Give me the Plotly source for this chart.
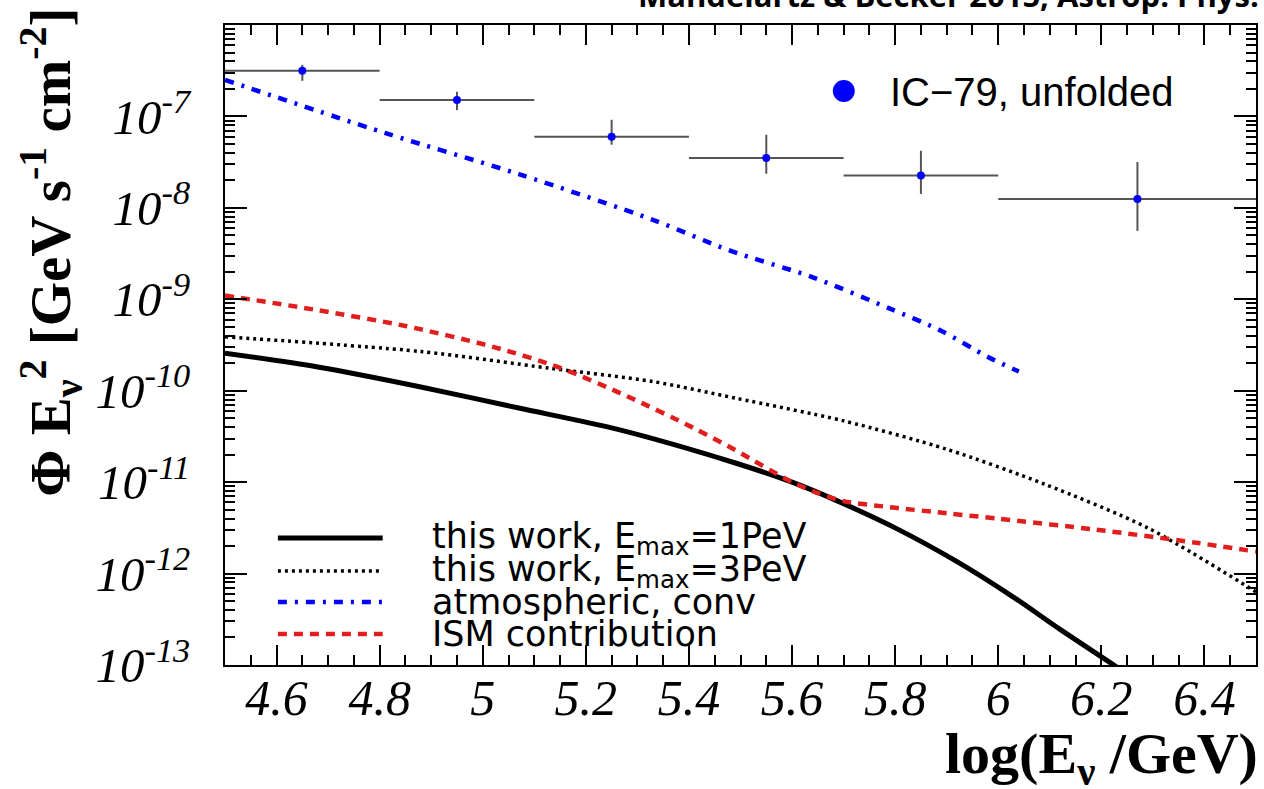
import plotly.graph_objects as go

# ---------------- data ----------------
# IC-79 unfolded spectrum: bin centres, bin edges, flux and error-bar ends
ic_x = [4.65, 4.95, 5.25, 5.55, 5.85, 6.27]
ic_x_lo = [4.5, 4.8, 5.1, 5.4, 5.7, 6.0]
ic_x_hi = [4.8, 5.1, 5.4, 5.7, 6.0, 6.5]
ic_flux = [3.16e-7, 1.51e-7, 5.98e-8, 3.52e-8, 2.26e-8, 1.25e-8]
ic_flux_hi = [3.67e-7, 1.86e-7, 9.2e-8, 6.30e-8, 4.21e-8, 3.18e-8]
ic_flux_lo = [2.45e-7, 1.17e-7, 4.9e-8, 2.36e-8, 1.42e-8, 5.6e-9]

# this work, Emax = 1 PeV
e1_x = [4.50, 4.68, 4.88, 5.07, 5.26, 5.49, 5.60, 5.67, 5.80, 5.92, 6.03,
        6.12, 6.23]
e1_flux = [2.57e-10, 1.82e-10, 1.10e-10, 6.46e-11, 3.80e-11, 1.62e-11,
           1.0e-11, 6.9e-12, 3.16e-12, 1.35e-12, 5.5e-13, 2.45e-13, 9.5e-14]

# this work, Emax = 3 PeV
e3_x = [4.50, 4.88, 5.13, 5.33, 5.49, 5.70, 5.90, 6.09, 6.29, 6.50]
e3_flux = [3.89e-10, 2.68e-10, 1.76e-10, 1.26e-10, 8.3e-11, 4.68e-11,
           2.29e-11, 9.5e-12, 3.16e-12, 6.3e-13]

# atmospheric, conventional
atm_x = [4.50, 4.81, 5.07, 5.33, 5.48, 5.64, 5.79, 5.89, 5.98, 6.04]
atm_flux = [2.51e-7, 6.6e-8, 2.34e-8, 7.4e-9, 3.4e-9, 1.74e-9, 7.9e-10,
            4.5e-10, 2.34e-10, 1.62e-10]

# ISM contribution
ism_x = [4.50, 4.68, 4.85, 5.02, 5.15, 5.28, 5.41, 5.49, 5.60, 5.65, 5.70,
         5.80, 5.90, 6.00, 6.19, 6.38, 6.50]
ism_flux = [1.10e-9, 7.6e-10, 5.1e-10, 3.02e-10, 1.78e-10, 8.7e-11, 3.89e-11,
            2.24e-11, 1.0e-11, 7.6e-12, 6.2e-12, 5.25e-12, 4.57e-12,
            3.98e-12, 3.02e-12, 2.19e-12, 1.74e-12]

# axis ticks
y_tick_vals = [1e-13, 1e-12, 1e-11, 1e-10, 1e-9, 1e-8, 1e-7]
y_tick_text = ["10<sup>-13</sup>", "10<sup>-12</sup>", "10<sup>-11</sup>",
               "10<sup>-10</sup>", "10<sup>-9</sup>", "10<sup>-8</sup>",
               "10<sup>-7</sup>"]
y_minor_vals = [k * 10.0 ** e for e in range(-13, -6) for k in range(2, 10)]

legend_labels = ["this work, E<sub>max</sub>=1PeV",
                 "this work, E<sub>max</sub>=3PeV",
                 "atmospheric, conv",
                 "ISM contribution"]

# ---------------- figure ----------------
RED = "#e01e1e"
BLUE = "#0000ff"

fig = go.Figure()
fig.add_trace(go.Scatter(x=e1_x, y=e1_flux, mode="lines", name=legend_labels[0],
                         line=dict(color="black", width=5, shape="spline",
                                   smoothing=0.8)))
fig.add_trace(go.Scatter(x=e3_x, y=e3_flux, mode="lines", name=legend_labels[1],
                         line=dict(color="black", width=3.5, dash="3px,4px",
                                   shape="spline", smoothing=0.8)))
fig.add_trace(go.Scatter(x=atm_x, y=atm_flux, mode="lines", name=legend_labels[2],
                         line=dict(color=BLUE, width=4.5, dash="9px,8px,3px,8px",
                                   shape="spline", smoothing=0.8)))
fig.add_trace(go.Scatter(x=ism_x, y=ism_flux, mode="lines", name=legend_labels[3],
                         line=dict(color=RED, width=4.5, dash="9px,7px",
                                   shape="spline", smoothing=0.8)))
fig.add_trace(go.Scatter(
    x=ic_x, y=ic_flux, mode="markers", name="IC-79, unfolded",
    marker=dict(color=BLUE, size=8),
    error_x=dict(type="data", symmetric=False,
                 array=[h - c for h, c in zip(ic_x_hi, ic_x)],
                 arrayminus=[c - l for c, l in zip(ic_x, ic_x_lo)],
                 color="#555555", thickness=2, width=0),
    error_y=dict(type="data", symmetric=False,
                 array=[h - c for h, c in zip(ic_flux_hi, ic_flux)],
                 arrayminus=[c - l for c, l in zip(ic_flux, ic_flux_lo)],
                 color="#555555", thickness=2, width=0),
))

# ---------------- layout ----------------
L, R, T, B = 225, 6, 25, 124
W, H = 1264, 789
PW, PH = W - L - R, H - T - B


def px_x(p):
    return (p - L) / PW


def px_y(p):
    return (H - B - p) / PH


axis_common = dict(showgrid=False, zeroline=False, showline=True,
                   linecolor="black", linewidth=2, mirror="ticks",
                   ticks="inside", tickcolor="black", tickwidth=1.5)

fig.update_layout(
    width=W, height=H,
    margin=dict(l=L, r=R, t=T, b=B, pad=0),
    paper_bgcolor="white", plot_bgcolor="white",
    showlegend=False,
    xaxis=dict(range=[4.5, 6.5], tick0=4.6, dtick=0.2, ticklen=20,
               ticklabelstandoff=-12,
               tickfont=dict(family="Liberation Serif", size=50, style="italic",
                             color="black"),
               minor=dict(ticks="inside", dtick=0.05, tick0=4.5, ticklen=10,
                          tickcolor="black", tickwidth=1.5),
               **axis_common),
    yaxis=dict(type="log", range=[-13, -6], tickmode="array",
               tickvals=y_tick_vals, ticktext=y_tick_text, ticklen=22,
               ticklabelstandoff=23,
               tickfont=dict(family="Liberation Serif", size=49, style="italic",
                             color="black"),
               minor=dict(ticks="inside", tickmode="array", tickvals=y_minor_vals,
                          ticklen=10, tickcolor="black", tickwidth=1.5),
               **axis_common),
)

ann = []
# axis titles
ann.append(dict(text="<b>log(E<sub>ν</sub> /GeV)</b>", xref="paper", yref="paper",
                x=px_x(1262), y=px_y(757), xanchor="right", yanchor="middle",
                showarrow=False,
                font=dict(family="Liberation Serif", size=58, color="black")))
ann.append(dict(text="<b>Φ E<sub>ν</sub><sup>2</sup> [GeV s<sup>-1</sup> cm<sup>-2</sup>]</b>",
                xref="paper", yref="paper", x=px_x(50), y=px_y(6),
                xanchor="center", yanchor="top", textangle=-90, showarrow=False,
                font=dict(family="Liberation Serif", size=57, color="black")))
# cut-off header
ann.append(dict(text="<b>Mandelartz & Becker 2015, Astrop. Phys.</b>",
                xref="paper", yref="paper", x=px_x(1263), y=px_y(-5),
                xanchor="right", yanchor="middle", showarrow=False,
                font=dict(family="Open Sans", size=31, color="black")))
# IC-79 legend
ann.append(dict(text="IC−79, unfolded", xref="paper", yref="paper",
                x=px_x(889), y=px_y(92), xanchor="left", yanchor="middle",
                showarrow=False,
                font=dict(family="Liberation Sans", size=40, color="black")))

# bottom-left legend
rows_y = [538, 571, 602, 634]
styles = [dict(color="black", width=5, dash="solid"),
          dict(color="black", width=3.5, dash="3px,4px"),
          dict(color=BLUE, width=4.5, dash="9px,8px,3px,8px"),
          dict(color=RED, width=4.5, dash="9px,7px")]
shapes = []
for lab, ry, st in zip(legend_labels, rows_y, styles):
    shapes.append(dict(type="line", xref="paper", yref="paper",
                       x0=px_x(278), x1=px_x(383), y0=px_y(ry), y1=px_y(ry),
                       line=st))
    ann.append(dict(text=lab, xref="paper", yref="paper", x=px_x(430),
                    y=px_y(ry), xanchor="left", yanchor="middle",
                    showarrow=False,
                    font=dict(family="DejaVu Sans", size=35, color="black")))

shapes.append(dict(type="circle", xref="paper", yref="paper",
                   x0=px_x(834), x1=px_x(856), y0=px_y(80), y1=px_y(102),
                   fillcolor=BLUE, line=dict(color=BLUE, width=0)))

fig.update_layout(annotations=ann, shapes=shapes)

fig.write_html("out.html",
               config={"displayModeBar": False},
               post_script="document.body.style.margin='0';"
                           "document.body.style.overflow='hidden';")
